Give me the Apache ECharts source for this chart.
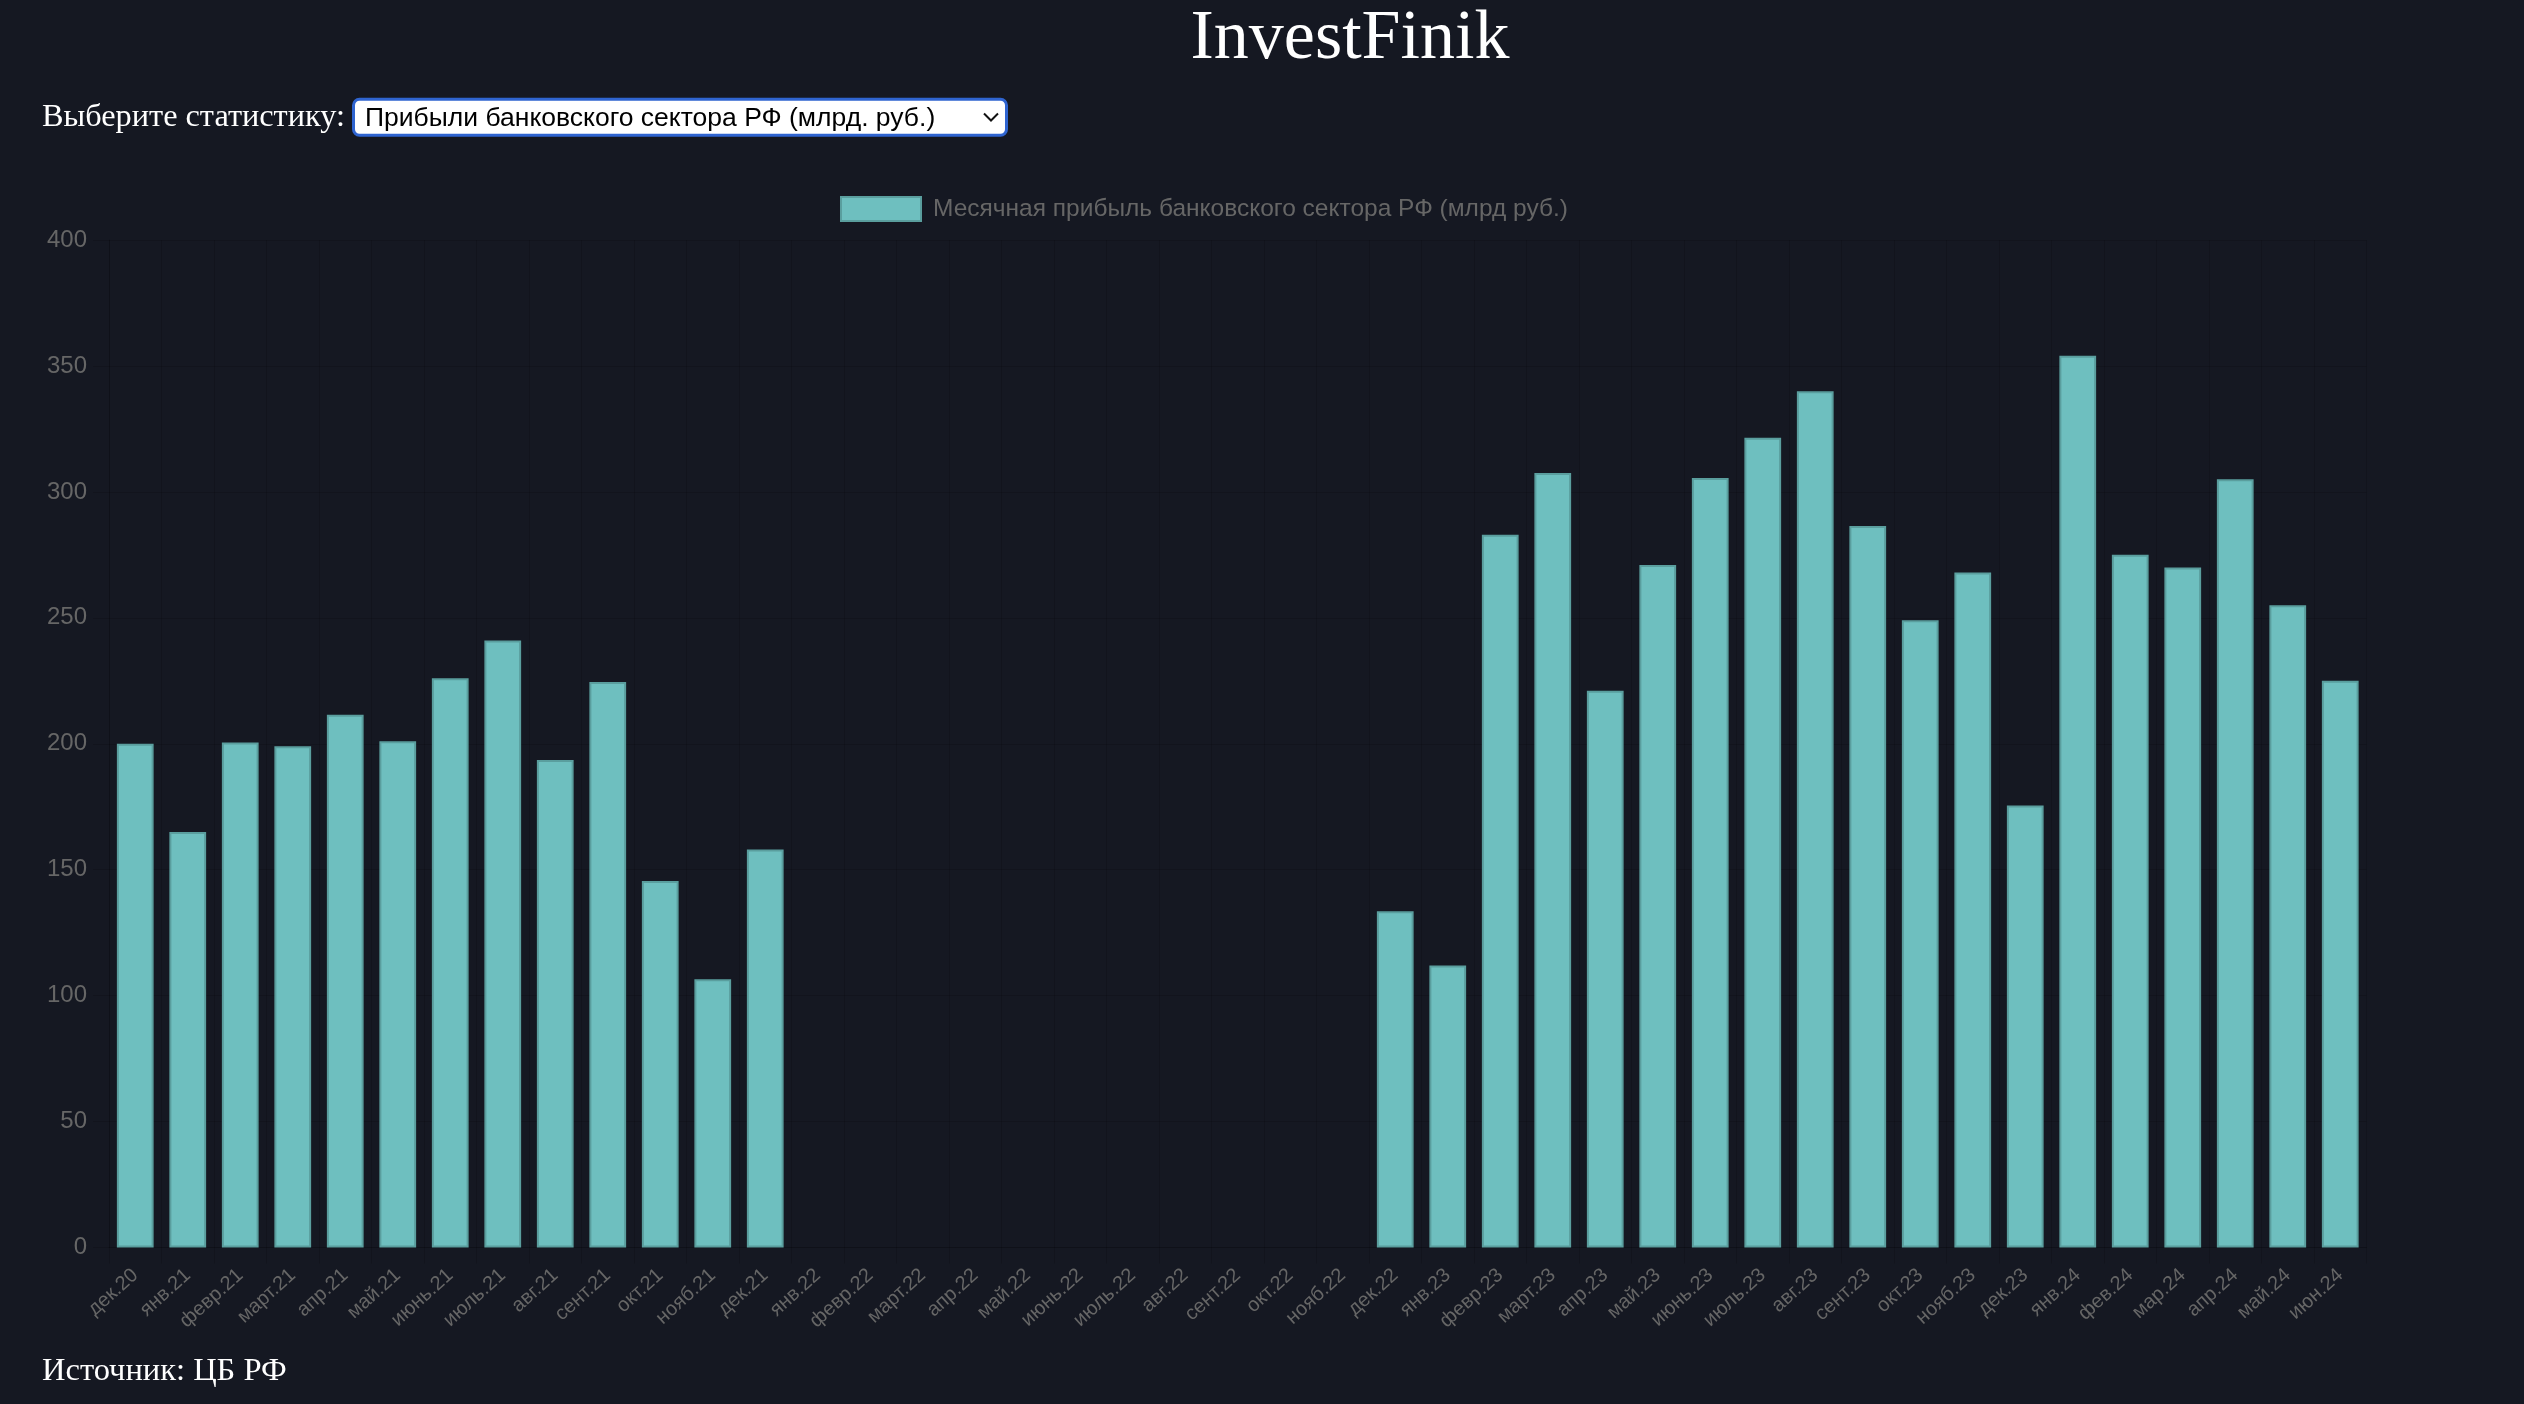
<!DOCTYPE html>
<html>
<head>
<meta charset="utf-8">
<script src="https://cdn.jsdelivr.net/npm/echarts@6/dist/echarts.min.js"></script>
<style>
html,body{margin:0;padding:0;background:#151822;overflow:hidden;}
#chart{width:2524px;height:1404px;}
</style>
</head>
<body>
<div id="chart"></div>
<script>
// ---- data ----
const categories = [
  'дек.20','янв.21','февр.21','март.21','апр.21','май.21','июнь.21','июль.21','авг.21','сент.21','окт.21','нояб.21','дек.21',
  'янв.22','февр.22','март.22','апр.22','май.22','июнь.22','июль.22','авг.22','сент.22','окт.22','нояб.22',
  'дек.22','янв.23','февр.23','март.23','апр.23','май.23','июнь.23','июль.23','авг.23','сент.23','окт.23','нояб.23','дек.23',
  'янв.24','фев.24','мар.24','апр.24','май.24','июн.24'
];
const profit = [
  200, 165, 200.5, 199, 211.5, 201, 226, 241, 193.5, 224.5, 145.5, 106.5, 158,
  null, null, null, null, null, null, null, null, null, null, null,
  133.5, 112, 283, 307.5, 221, 271, 305.5, 321.5, 340, 286.5, 249, 268, 175.5,
  354, 275, 270, 305, 255, 225
];
const yTicks = [0, 50, 100, 150, 200, 250, 300, 350, 400];
const seriesName = 'Месячная прибыль банковского сектора РФ (млрд руб.)';
const pageTitle = 'InvestFinik';
const selectLabel = 'Выберите статистику:';
const selectValue = 'Прибыли банковского сектора РФ (млрд. руб.)';
const sourceText = 'Источник: ЦБ РФ';

// ---- chart ----
const gridColor = 'rgba(0,0,0,0.13)';
const tickColor = '#666666';
const sans = '"Liberation Sans", Arial, sans-serif';
const serif = '"Liberation Serif", "Times New Roman", serif';

const chart = echarts.init(document.getElementById('chart'), null, {renderer: 'canvas'});
chart.setOption({
  backgroundColor: '#151822',
  animation: false,
  legend: {
    data: [seriesName],
    left: 840,
    top: 196,
    padding: 0,
    icon: 'rect',
    itemWidth: 80,
    itemHeight: 24,
    textStyle: {fontSize: 24.5, color: tickColor, fontFamily: sans, padding: [0, 0, 0, 7]}
  },
  grid: {left: 109, right: 157.5, top: 240, bottom: 156.5, containLabel: false},
  xAxis: {
    type: 'category',
    data: categories,
    boundaryGap: true,
    axisLine: {show: true, lineStyle: {color: gridColor, width: 1}},
    axisTick: {show: true, length: 16, alignWithLabel: false, lineStyle: {color: gridColor}},
    axisLabel: {interval: 0, rotate: 42, fontSize: 20, color: tickColor, fontFamily: sans, margin: 25},
    splitLine: {show: true, lineStyle: {color: gridColor, width: 1}}
  },
  yAxis: {
    type: 'value',
    min: yTicks[0],
    max: yTicks[yTicks.length - 1],
    interval: yTicks[1] - yTicks[0],
    axisLine: {show: true, lineStyle: {color: gridColor}},
    axisTick: {show: true, length: 16, lineStyle: {color: gridColor}},
    axisLabel: {fontSize: 24, color: tickColor, fontFamily: sans, margin: 22},
    splitLine: {show: true, lineStyle: {color: gridColor, width: 1}}
  },
  series: [{
    name: seriesName,
    type: 'bar',
    data: profit,
    barWidth: '70%',
    itemStyle: {color: '#6ebfbf', borderColor: '#5a9e9e', borderWidth: 2}
  }],
  graphic: [
    {type: 'text', x: 1350, y: 40, silent: true,
     style: {text: pageTitle, align: 'center', verticalAlign: 'middle', font: '70px ' + serif, fill: '#ffffff'}},
    {type: 'text', x: 42, y: 117.5, silent: true,
     style: {text: selectLabel, align: 'left', verticalAlign: 'middle', font: '32.3px ' + serif, fill: '#ffffff'}},
    {type: 'rect', silent: true,
     shape: {x: 353.5, y: 99.2, width: 653, height: 36, r: 6},
     style: {fill: '#ffffff', stroke: '#2f64d0', lineWidth: 3}},
    {type: 'text', x: 365, y: 118.8, silent: true,
     style: {text: selectValue, align: 'left', verticalAlign: 'middle', font: '26.5px ' + sans, fill: '#000000'}},
    {type: 'polyline', silent: true,
     shape: {points: [[984, 113.5], [991, 120.5], [998, 113.5]]},
     style: {stroke: '#111111', lineWidth: 2, fill: null}},
    {type: 'text', x: 42, y: 1371, silent: true,
     style: {text: sourceText, align: 'left', verticalAlign: 'middle', font: '32.5px ' + serif, fill: '#ffffff'}}
  ]
});
</script>
</body>
</html>
